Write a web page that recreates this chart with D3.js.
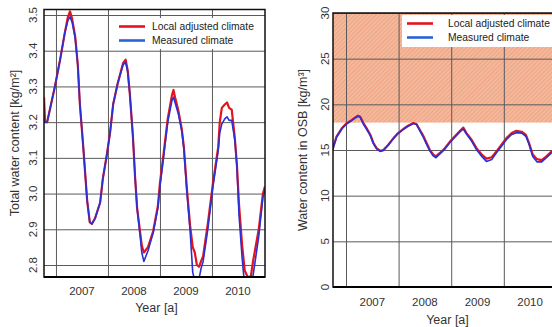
<!DOCTYPE html>
<html>
<head>
<meta charset="utf-8">
<script src="https://cdn.jsdelivr.net/npm/d3@7"></script>
<style>
  body { margin: 0; background: #fff; }
  svg { display: block; font-family: "Liberation Sans", Arial, sans-serif; }
</style>
</head>
<body>
<div id="chart"></div>
<script>
// total water content (left panel), decimal years
const leftYears = [2006.77, 2006.79, 2006.83, 2006.98, 2007.08, 2007.17, 2007.23, 2007.27, 2007.31, 2007.37,
    2007.42, 2007.46, 2007.52, 2007.56, 2007.60, 2007.65, 2007.69, 2007.75, 2007.85, 2007.90,
    2007.98, 2008.04, 2008.10, 2008.19, 2008.29, 2008.34, 2008.38, 2008.42, 2008.48, 2008.52,
    2008.56, 2008.62, 2008.65, 2008.69, 2008.77, 2008.87, 2008.96, 2009.00, 2009.06, 2009.15,
    2009.23, 2009.26, 2009.29, 2009.35, 2009.42, 2009.46, 2009.52, 2009.58, 2009.63, 2009.67,
    2009.71, 2009.75, 2009.79, 2009.83, 2009.92, 2010.02, 2010.12, 2010.15, 2010.19, 2010.25,
    2010.29, 2010.33, 2010.38, 2010.44, 2010.48, 2010.52, 2010.58, 2010.63, 2010.69, 2010.75,
    2010.79, 2010.85, 2010.90, 2010.98, 2011.02];
const leftLocal = [3.27, 3.20, 3.20, 3.30, 3.375, 3.45, 3.495, 3.51, 3.49, 3.44,
    3.36, 3.25, 3.14, 3.06, 2.98, 2.92, 2.915, 2.93, 2.975, 3.04,
    3.11, 3.17, 3.25, 3.31, 3.365, 3.375, 3.345, 3.28, 3.16, 3.05,
    2.96, 2.89, 2.855, 2.835, 2.85, 2.895, 2.965, 3.03, 3.10, 3.21,
    3.275, 3.29, 3.27, 3.235, 3.18, 3.13, 3.01, 2.91, 2.85, 2.835,
    2.80, 2.795, 2.81, 2.825, 2.915, 3.03, 3.13, 3.20, 3.24, 3.25,
    3.255, 3.24, 3.235, 3.155, 3.08, 2.97, 2.855, 2.785, 2.765, 2.77,
    2.81, 2.86, 2.90, 3.00, 3.02];
const leftMeasured = [3.20, 3.20, 3.20, 3.30, 3.375, 3.45, 3.485, 3.495, 3.48, 3.435,
    3.36, 3.25, 3.14, 3.06, 2.98, 2.92, 2.915, 2.93, 2.975, 3.04,
    3.11, 3.17, 3.25, 3.31, 3.36, 3.368, 3.34, 3.28, 3.16, 3.05,
    2.96, 2.88, 2.835, 2.81, 2.84, 2.89, 2.96, 3.02, 3.09, 3.20,
    3.26, 3.27, 3.255, 3.225, 3.175, 3.125, 3.00, 2.895, 2.78, 2.755,
    2.745, 2.76, 2.79, 2.81, 2.90, 3.02, 3.12, 3.17, 3.195, 3.21,
    3.215, 3.205, 3.205, 3.15, 3.075, 2.94, 2.82, 2.74, 2.72, 2.73,
    2.77, 2.83, 2.88, 2.99, 3.01];
const leftTicks = [2.8, 2.9, 3.0, 3.1, 3.2, 3.3, 3.4, 3.5];

// water content in OSB (right panel)
const rightYears = [2006.75, 2006.76, 2006.82, 2006.92, 2007.01, 2007.08, 2007.17, 2007.23, 2007.27, 2007.33,
    2007.39, 2007.46, 2007.52, 2007.58, 2007.65, 2007.71, 2007.80, 2007.90, 2007.99, 2008.09,
    2008.18, 2008.28, 2008.34, 2008.40, 2008.47, 2008.53, 2008.59, 2008.66, 2008.71, 2008.78,
    2008.88, 2008.98, 2009.07, 2009.16, 2009.23, 2009.29, 2009.39, 2009.48, 2009.58, 2009.67,
    2009.77, 2009.86, 2009.96, 2010.05, 2010.15, 2010.24, 2010.34, 2010.42, 2010.48, 2010.55,
    2010.63, 2010.72, 2010.81, 2010.91, 2011.03];
const rightLocal = [15.1, 15.36, 16.46, 17.37, 17.92, 18.17, 18.54, 18.76, 18.65, 17.95,
    17.4, 16.7, 15.8, 15.2, 14.9, 15.0, 15.55, 16.28, 16.85, 17.3,
    17.66, 17.95, 17.85, 17.25, 16.55, 15.8, 15.05, 14.5, 14.3, 14.65,
    15.2, 15.95, 16.5, 17.05, 17.45, 16.85, 16.1, 15.2, 14.5, 14.05,
    14.2, 14.85, 15.6, 16.3, 16.85, 17.1, 17.0, 16.65, 15.75, 14.5,
    14.0, 13.9, 14.3, 14.85, 15.4];
const rightMeasured = [15.0, 15.3, 16.4, 17.3, 17.85, 18.1, 18.5, 18.7, 18.6, 17.85,
    17.3, 16.6, 15.7, 15.15, 14.85, 14.95, 15.5, 16.25, 16.8, 17.25,
    17.6, 17.9, 17.8, 17.15, 16.4, 15.65, 14.95, 14.35, 14.15, 14.55,
    15.1, 15.85, 16.4, 16.95, 17.3, 16.75, 15.95, 15.05, 14.3, 13.75,
    13.95, 14.7, 15.45, 16.15, 16.7, 16.9, 16.85, 16.5, 15.6, 14.3,
    13.7, 13.7, 14.15, 14.7, 15.3];
const rightTicks = [0, 5, 10, 15, 20, 25, 30];
const osbLimit = 18;

const yearBounds = [2007, 2008, 2009, 2010];
const yearLabels = [2007, 2008, 2009, 2010];
const seriesNames = ['Local adjusted climate', 'Measured climate'];

const red = '#e3141b';
const blue = '#2b30d4';
const legendBlue = '#2a62d8';
const gridColor = '#5a5a5a';

const svg = d3.select('#chart').append('svg')
    .attr('width', 552)
    .attr('height', 327);

const defs = svg.append('defs');
const hatch = defs.append('pattern')
    .attr('id', 'hatch')
    .attr('patternUnits', 'userSpaceOnUse')
    .attr('width', 3)
    .attr('height', 3)
    .attr('patternTransform', 'rotate(45)');
hatch.append('rect').attr('width', 3).attr('height', 3).attr('fill', '#f4b99c');
hatch.append('line').attr('x1', 0).attr('y1', 0).attr('x2', 0).attr('y2', 3)
    .attr('stroke', '#ea9672').attr('stroke-width', 1.2);

function drawPanel(p) {
    const x = d3.scaleLinear().domain(p.xDomain).range([p.left, p.right]);
    const y = d3.scaleLinear().domain(p.yDomain).range([p.bottom, p.top]);
    const g = svg.append('g');

    defs.append('clipPath').attr('id', p.id + '-clip')
        .append('rect')
        .attr('x', p.left).attr('y', p.top)
        .attr('width', p.right - p.left).attr('height', p.bottom - p.top);

    if (p.limit != null) {
        g.append('rect')
            .attr('x', p.left).attr('y', y(p.yDomain[1]))
            .attr('width', p.right - p.left)
            .attr('height', y(p.limit) - y(p.yDomain[1]))
            .attr('fill', 'url(#hatch)');
    }

    // grid
    g.append('g')
        .attr('transform', `translate(0,${p.bottom})`)
        .call(d3.axisBottom(x).tickValues(yearBounds).tickSize(-(p.bottom - p.top)).tickFormat(''))
        .call(a => a.select('.domain').remove())
        .call(a => a.selectAll('line').attr('stroke', gridColor).attr('stroke-width', 1));
    g.append('g')
        .attr('transform', `translate(${p.left},0)`)
        .call(d3.axisLeft(y).tickValues(p.ticks).tickSize(-(p.right - p.left)).tickFormat(''))
        .call(a => a.select('.domain').remove())
        .call(a => a.selectAll('line').attr('stroke', gridColor).attr('stroke-width', 1));

    // legend box
    const lg = g.append('g');
    lg.append('rect')
        .attr('x', p.legend.x).attr('y', p.legend.y)
        .attr('width', p.legend.w).attr('height', p.legend.h)
        .attr('fill', '#fff');
    [red, legendBlue].forEach((c, i) => {
        const ly = p.legend.y + 8.5 + i * 14;
        lg.append('line')
            .attr('x1', p.legend.x + 5).attr('x2', p.legend.x + 31)
            .attr('y1', ly).attr('y2', ly)
            .attr('stroke', c).attr('stroke-width', 2.6);
        lg.append('text')
            .attr('x', p.legend.x + p.legend.textDx).attr('y', ly + 3.6)
            .attr('font-size', 10.3).attr('fill', '#222')
            .text(seriesNames[i]);
    });

    const line = d3.line()
        .x((d, i) => x(p.years[i]))
        .y(d => y(d))
        .curve(d3.curveLinear);

    const lines = g.append('g').attr('clip-path', `url(#${p.id}-clip)`);
    lines.append('path').datum(p.local)
        .attr('d', line).attr('fill', 'none')
        .attr('stroke', red).attr('stroke-width', 2.2).attr('stroke-linejoin', 'round');
    lines.append('path').datum(p.measured)
        .attr('d', line).attr('fill', 'none')
        .attr('stroke', blue).attr('stroke-width', 1.6).attr('stroke-linejoin', 'round');

    // frame
    g.append('rect')
        .attr('x', p.left).attr('y', p.top)
        .attr('width', p.right - p.left).attr('height', p.bottom - p.top)
        .attr('fill', 'none').attr('stroke', '#111').attr('stroke-width', 1.5);
    g.append('line')
        .attr('x1', p.left).attr('x2', p.right)
        .attr('y1', p.bottom).attr('y2', p.bottom)
        .attr('stroke', '#000').attr('stroke-width', 2);

    // y tick labels, rotated
    g.selectAll('.ylab').data(p.ticks).enter().append('text')
        .attr('transform', d => `translate(${p.tickX},${y(d)}) rotate(-90)`)
        .attr('text-anchor', 'middle')
        .attr('dy', '0.35em')
        .attr('font-size', 11.5).attr('fill', '#333')
        .text(p.fmt);

    // year labels
    g.selectAll('.xlab').data(yearLabels).enter().append('text')
        .attr('x', d => x(d + 0.5))
        .attr('y', p.yearY)
        .attr('text-anchor', 'middle')
        .attr('font-size', 11.5).attr('fill', '#333')
        .text(d => d);

    g.append('text')
        .attr('x', (p.left + Math.min(p.right, 552)) / 2 + p.xTitleDx)
        .attr('y', p.xTitleY)
        .attr('text-anchor', 'middle')
        .attr('font-size', 12.5).attr('fill', '#333')
        .text('Year [a]');

    g.append('text')
        .attr('transform', `translate(${p.yTitleX},${p.yTitleY}) rotate(-90)`)
        .attr('text-anchor', 'middle')
        .attr('font-size', 12.5).attr('fill', '#333')
        .text(p.yTitle);
}

drawPanel({
    id: 'left',
    left: 44, right: 265, top: 9.5, bottom: 277,
    xDomain: [2006.77, 2011.02],
    yDomain: [2.7664, 3.5154],
    ticks: leftTicks,
    fmt: d3.format('.1f'),
    years: leftYears, local: leftLocal, measured: leftMeasured,
    limit: null,
    legend: { x: 114, y: 18, w: 146, h: 31, textDx: 38 },
    tickX: 33, yearY: 295, xTitleY: 312, xTitleDx: 2,
    yTitleX: 19, yTitleY: 143,
    yTitle: 'Total water content [kg/m²]'
});

drawPanel({
    id: 'right',
    left: 333, right: 558, top: 13, bottom: 287,
    xDomain: [2006.753, 2011.03],
    yDomain: [0, 30],
    ticks: rightTicks,
    fmt: d3.format('d'),
    years: rightYears, local: rightLocal, measured: rightMeasured,
    limit: osbLimit,
    legend: { x: 402, y: 15, w: 160, h: 32, textDx: 46 },
    tickX: 325, yearY: 306, xTitleY: 324, xTitleDx: 5,
    yTitleX: 307, yTitleY: 150,
    yTitle: 'Water content in OSB  [kg/m³]'
});
</script>
</body>
</html>
